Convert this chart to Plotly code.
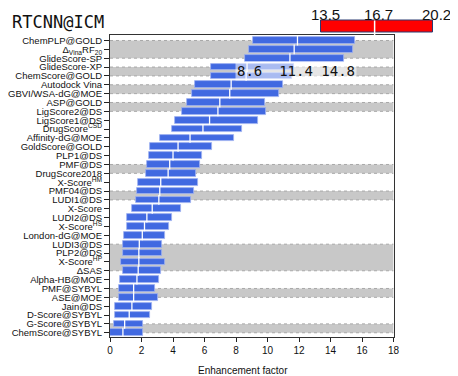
import plotly.graph_objects as go

# ---------------- data ----------------
labels = [
    "ChemPLP@GOLD", "Δ<sub>Vina</sub>RF<sub>20</sub>", "GlideScore-SP", "GlideScore-XP",
    "ChemScore@GOLD", "Autodock Vina", "GBVI/WSA-dG@MOE", "ASP@GOLD",
    "LigScore2@DS", "LigScore1@DS", "DrugScore<sup>CSD</sup>", "Affinity-dG@MOE",
    "GoldScore@GOLD", "PLP1@DS", "PMF@DS", "DrugScore2018",
    "X-Score<sup>HM</sup>", "PMF04@DS", "LUDI1@DS", "X-Score",
    "LUDI2@DS", "X-Score<sup>HS</sup>", "London-dG@MOE", "LUDI3@DS",
    "PLP2@DS", "X-Score<sup>HP</sup>", "ΔSAS", "Alpha-HB@MOE",
    "PMF@SYBYL", "ASE@MOE", "Jain@DS", "D-Score@SYBYL",
    "G-Score@SYBYL", "ChemScore@SYBYL",
]
low = [9.06, 8.80, 8.57, 6.43, 6.42, 5.37, 5.20, 4.89, 4.59, 4.15, 3.92, 3.16,
       2.57, 2.49, 2.34, 2.26, 1.79, 1.69, 1.67, 1.37, 1.05, 1.07, 0.91, 0.82,
       0.80, 0.70, 0.80, 0.61, 0.59, 0.59, 0.34, 0.34, 0.23, 0.00]
median = [11.90, 11.69, 11.42, 8.70, 8.64, 7.69, 7.60, 6.97, 6.85, 6.32, 5.90, 5.08,
          4.32, 4.00, 3.79, 3.69, 3.22, 3.16, 3.10, 2.68, 2.34, 2.19, 2.05, 1.86,
          1.83, 1.83, 1.79, 1.71, 1.50, 1.50, 1.39, 1.22, 0.93, 0.82]
high = [15.52, 15.44, 14.83, 11.65, 11.58, 10.99, 10.74, 9.85, 9.90, 9.41, 8.38, 7.90,
        6.49, 5.86, 5.71, 5.46, 5.56, 5.31, 5.14, 4.49, 3.96, 3.73, 3.47, 3.31,
        3.27, 3.47, 3.22, 3.14, 2.87, 3.06, 2.65, 2.57, 2.08, 2.07]

# shaded groups (first row index, last row index)
band_groups = [(0, 2), (3, 4), (5, 6), (7, 8), (14, 15), (17, 18), (23, 26), (28, 29), (32, 33)]

ref_name = "RTCNN@ICM"
ref_low, ref_median, ref_high = 13.5, 16.7, 20.2

highlight_row = 2  # row whose values are printed
x_ticks = list(range(0, 19, 2))

# ---------------- figure ----------------
rows = list(range(len(labels)))
OFF = 8  # page body margin
W, H = 458 - OFF, 376 - OFF
ML, MR, MT = 108 - OFF, 18, 0
plot_bottom_ref = 337
MB = H - (plot_bottom_ref - OFF)
PW = W - ML - MR
PH = H - MT - MB


def py(p):  # screen pixel row -> paper y
    return (PH - (p - OFF - MT)) / PH


def px(p):  # screen pixel col -> paper x
    return (p - OFF - ML) / PW


main_top, main_bot = 35, plot_bottom_ref
fig = go.Figure()

# blue range bars
fig.add_trace(go.Bar(
    y=rows, x=[h - l for l, h in zip(low, high)], base=low, orientation="h",
    width=0.76, marker=dict(color="#4169E1", line=dict(color="#9fb2f0", width=0.8)),
    showlegend=False, hoverinfo="skip"))
# medians
fig.add_trace(go.Scatter(
    y=rows, x=median, mode="markers",
    marker=dict(symbol="line-ns", size=7, line=dict(color="white", width=1.3)),
    showlegend=False, hoverinfo="skip"))

# reference bar (RTCNN@ICM) on its own axis above the plot
fig.add_trace(go.Bar(
    y=[0], x=[ref_high - ref_low], base=[ref_low], orientation="h", width=0.67,
    marker=dict(color="#ff0000", line=dict(color="#2b3a70", width=1)),
    xaxis="x2", yaxis="y2", showlegend=False, hoverinfo="skip"))

shapes = []
for a, b in band_groups:
    shapes.append(dict(type="rect", xref="x", yref="y", x0=0, x1=18, y0=a, y1=b,
                       fillcolor="#c8c8c8", line=dict(width=0), layer="below"))
    for yy in (a, b):
        shapes.append(dict(type="line", xref="x", yref="y", x0=0, x1=18, y0=yy, y1=yy,
                           line=dict(color="#a8a8a8", width=1, dash="dot"), layer="below"))
# reference median line running down to plot
shapes.append(dict(type="line", xref="x2", yref="paper", x0=ref_median, x1=ref_median,
                   y0=py(38), y1=py(20.5), line=dict(color="white", width=1.5)))

ann = []
ann.append(dict(text=ref_name, xref="paper", yref="paper", x=px(7), y=py(21.5),
                xanchor="left", yanchor="middle", showarrow=False,
                font=dict(family="DejaVu Sans Mono", size=17, color="#111")))
for v in (ref_low, ref_median, ref_high):
    ann.append(dict(text=f"{v:.1f}", xref="x2", yref="paper", x=v, y=py(14.5),
                    xanchor="center", yanchor="middle", showarrow=False, xshift=4,
                    font=dict(family="Liberation Sans, Arial", size=15, color="#111")))
hl = highlight_row
ann.append(dict(text=f"{low[hl]:.1f}  {median[hl]:.1f} {high[hl]:.1f}", xref="paper", yref="paper",
                x=px(295.5), y=py(70.7), xanchor="center", yanchor="middle", showarrow=False,
                bgcolor="rgba(255,255,255,0.55)", borderpad=1,
                font=dict(family="DejaVu Sans Mono", size=14, color="#111")))
ann.append(dict(text="Enhancement factor", xref="paper", yref="paper",
                x=px(241.5), y=py(370), xanchor="center", yanchor="middle", showarrow=False,
                font=dict(family="Liberation Sans, Arial", size=10, color="#111")))

fig.update_layout(
    width=W, height=H, margin=dict(l=ML, r=MR, t=MT, b=MB),
    paper_bgcolor="white", plot_bgcolor="white",
    font=dict(family="Liberation Sans, Arial", size=9.5, color="#111"),
    barmode="overlay", bargap=0,
    shapes=shapes, annotations=ann,
    xaxis=dict(domain=[0, px(393.3)], range=[0, 18], tickvals=x_ticks, ticks="outside",
               ticklen=4, tickcolor="#222", showline=True, linecolor="#333", mirror=True,
               showgrid=False, zeroline=False, anchor="y", tickfont=dict(size=10)),
    yaxis=dict(domain=[py(main_bot), py(main_top)], range=[33.48, -0.62], tickmode="array",
               tickvals=rows, ticktext=labels, ticks="outside", ticklen=5, tickcolor="#222",
               showline=True, linecolor="#333", mirror=True, showgrid=False, zeroline=False,
               anchor="x"),
    xaxis2=dict(domain=[0, 1], range=[(108 - 95) / 16.72, (440 - 95) / 16.72], visible=False,
                anchor="y2"),
    yaxis2=dict(domain=[py(main_top), py(17.5)], range=[-0.5, 0.5], visible=False, anchor="x2"),
)

fig.write_html("out.html")
